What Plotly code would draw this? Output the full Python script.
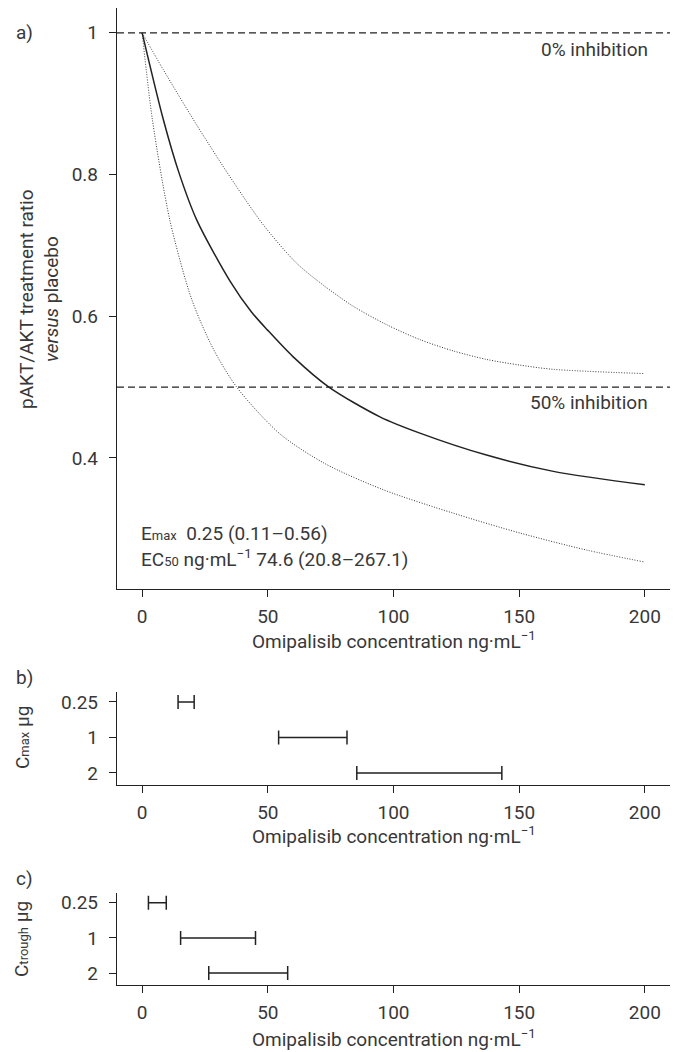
import plotly.graph_objects as go

# ---------------- data ----------------
# Panel a: model curves
fit_x = [0, 8.4, 14.6, 21.7, 34.9, 43.5, 50, 60, 74.3, 94.6, 110.5, 137, 163.6, 200]
fit_y = [1, 0.878, 0.803, 0.736, 0.650, 0.606, 0.580, 0.543, 0.5, 0.458, 0.435, 0.404, 0.381, 0.362]

upper_x = [0, 8.4, 21.7, 34.9, 48.2, 61.4, 72, 84, 97.3, 110.5, 123.8, 137, 150.3, 163.6, 200]
upper_y = [1, 0.948, 0.870, 0.797, 0.729, 0.675, 0.644, 0.614, 0.588, 0.567, 0.551, 0.539, 0.531, 0.525, 0.519]

lower_x = [0, 4.1, 11, 19.7, 28, 37.6, 54.8, 72.7, 96, 123.8, 150.3, 176.8, 200]
lower_y = [1, 0.877, 0.736, 0.624, 0.556, 0.5, 0.434, 0.392, 0.355, 0.322, 0.294, 0.270, 0.253]

ref_levels = [1.0, 0.5]
ref_labels = ["0% inhibition", "50% inhibition"]

# Panels b and c: concentration ranges by dose
doses = ["0.25", "1", "2"]
cmax_lo = [14.3, 54.3, 85.4]
cmax_hi = [20.7, 81.5, 143.1]
ctrough_lo = [2.5, 15.3, 26.5]
ctrough_hi = [9.6, 45.1, 57.9]

x_ticks = [0, 50, 100, 150, 200]
y_ticks_a = [0.4, 0.6, 0.8, 1.0]
y_ticktext_a = ["0.4", "0.6", "0.8", "1"]

# ---------------- style ----------------
FONT = "Roboto"
TXT = "#383838"
LINE = "#222222"
FS = 19
SMALL = 13

W, H = 676, 1052
ML, MR, MT, MB = 117, 6, 8, 67
PW = W - ML - MR
PH = H - MT - MB


def px_x(px):
    return (px - ML) / PW


def px_y(py):
    return (H - MB - py) / PH


fig = go.Figure()

# panel a curves
dotted = dict(color="#333333", width=1, dash="1px,1.6px", shape="spline", smoothing=0.8)
fig.add_trace(go.Scatter(x=upper_x, y=upper_y, mode="lines", line=dotted,
                         xaxis="x", yaxis="y", hoverinfo="skip"))
fig.add_trace(go.Scatter(x=lower_x, y=lower_y, mode="lines", line=dotted,
                         xaxis="x", yaxis="y", hoverinfo="skip"))
fig.add_trace(go.Scatter(x=fit_x, y=fit_y, mode="lines",
                         line=dict(color=LINE, width=1.5, shape="spline", smoothing=0.8),
                         xaxis="x", yaxis="y", hoverinfo="skip"))


def range_trace(lo, hi, xa, ya):
    centers = [(a + b) / 2 for a, b in zip(lo, hi)]
    half = [(b - a) / 2 for a, b in zip(lo, hi)]
    return go.Scatter(x=centers, y=doses, mode="markers", marker=dict(size=0.1, color="rgba(0,0,0,0)"),
                      error_x=dict(type="data", array=half, symmetric=True, color=LINE, thickness=1.5, width=7),
                      xaxis=xa, yaxis=ya, hoverinfo="skip")


fig.add_trace(range_trace(cmax_lo, cmax_hi, "x2", "y2"))
fig.add_trace(range_trace(ctrough_lo, ctrough_hi, "x3", "y3"))

# reference dashed lines
for lvl in ref_levels:
    fig.add_shape(type="line", xref="x domain", yref="y", x0=0, x1=1, y0=lvl, y1=lvl,
                  line=dict(color=LINE, width=1.2, dash="7px,4px"))

axis_common = dict(showline=True, linecolor=LINE, linewidth=1.3, ticks="outside", ticklen=7,
                   tickcolor=LINE, tickwidth=1.3, showgrid=False, zeroline=False,
                   tickfont=dict(family=FONT, size=FS, color=TXT))
xax = dict(axis_common, ticklabelstandoff=3)
yax = dict(axis_common, ticklabelstandoff=7)

dom_a = [px_y(589), 1.0]
dom_b = [px_y(785), px_y(692)]
dom_c = [0.0, px_y(893)]

fig.update_layout(
    width=W, height=H,
    margin=dict(l=ML, r=MR, t=MT, b=MB),
    paper_bgcolor="white", plot_bgcolor="white",
    showlegend=False,
    font=dict(family=FONT, size=FS, color=TXT),
    xaxis=dict(domain=[0, 1], range=[-10, 210], tickvals=x_ticks, anchor="y", **xax),
    yaxis=dict(domain=dom_a, range=[0.215, 1.035], tickvals=y_ticks_a, ticktext=y_ticktext_a, anchor="x", **yax),
    xaxis2=dict(domain=[0, 1], range=[-10, 210], tickvals=x_ticks, anchor="y2", **xax),
    yaxis2=dict(domain=dom_b, type="category", categoryorder="array", categoryarray=doses,
                range=[2.34, -0.28], anchor="x2", **yax),
    xaxis3=dict(domain=[0, 1], range=[-10, 210], tickvals=x_ticks, anchor="y3", **xax),
    yaxis3=dict(domain=dom_c, type="category", categoryorder="array", categoryarray=doses,
                range=[2.34, -0.28], anchor="x3", **yax),
)

ann = []
tf = dict(family=FONT, size=FS, color=TXT)

# reference line labels
ann.append(dict(x=202, y=0.976, xref="x", yref="y", text=ref_labels[0], showarrow=False,
                xanchor="right", yanchor="middle", font=tf))
ann.append(dict(x=202, y=0.478, xref="x", yref="y", text=ref_labels[1], showarrow=False,
                xanchor="right", yanchor="middle", font=tf))

# model parameter text
ann.append(dict(x=-1.2, y=0.2932, xref="x", yref="y", showarrow=False, xanchor="left", yanchor="middle", font=tf,
                text=f"E<span style='font-size:{SMALL}px'>max</span>  0.25 (0.11–0.56)"))
ann.append(dict(x=-1.2, y=0.2579, xref="x", yref="y", showarrow=False, xanchor="left", yanchor="middle", font=tf,
                text=f"EC<span style='font-size:{SMALL}px'>50</span> ng·mL<sup>−1</sup> 74.6 (20.8–267.1)"))

# panel letters
for letter, py in [("a)", 33), ("b)", 677), ("c)", 878)]:
    ann.append(dict(x=px_x(14), y=px_y(py), xref="paper", yref="paper", text=letter, showarrow=False,
                    xanchor="left", yanchor="middle", font=tf))

# x axis titles
xt = "Omipalisib concentration ng·mL<sup>−1</sup>"
for py in [640, 835, 1038]:
    ann.append(dict(x=0.5, y=px_y(py), xref="paper", yref="paper", text=xt, showarrow=False,
                    xanchor="center", yanchor="middle", font=tf))

# y axis titles
ann.append(dict(x=px_x(26), y=px_y(299), xref="paper", yref="paper", text="pAKT/AKT treatment ratio",
                showarrow=False, textangle=-90, xanchor="center", yanchor="middle", font=tf))
ann.append(dict(x=px_x(51), y=px_y(299), xref="paper", yref="paper", text="<i>versus</i> placebo",
                showarrow=False, textangle=-90, xanchor="center", yanchor="middle", font=tf))
ann.append(dict(x=px_x(22), y=px_y(738), xref="paper", yref="paper",
                text=f"C<span style='font-size:{SMALL}px'>max</span> μg",
                showarrow=False, textangle=-90, xanchor="center", yanchor="middle", font=tf))
ann.append(dict(x=px_x(21), y=px_y(939), xref="paper", yref="paper",
                text=f"C<span style='font-size:{SMALL}px'>trough</span> μg",
                showarrow=False, textangle=-90, xanchor="center", yanchor="middle", font=tf))

fig.update_layout(annotations=ann)

fig.write_html("out.html", config={"displayModeBar": False},
               post_script="document.body.style.margin='0';")
